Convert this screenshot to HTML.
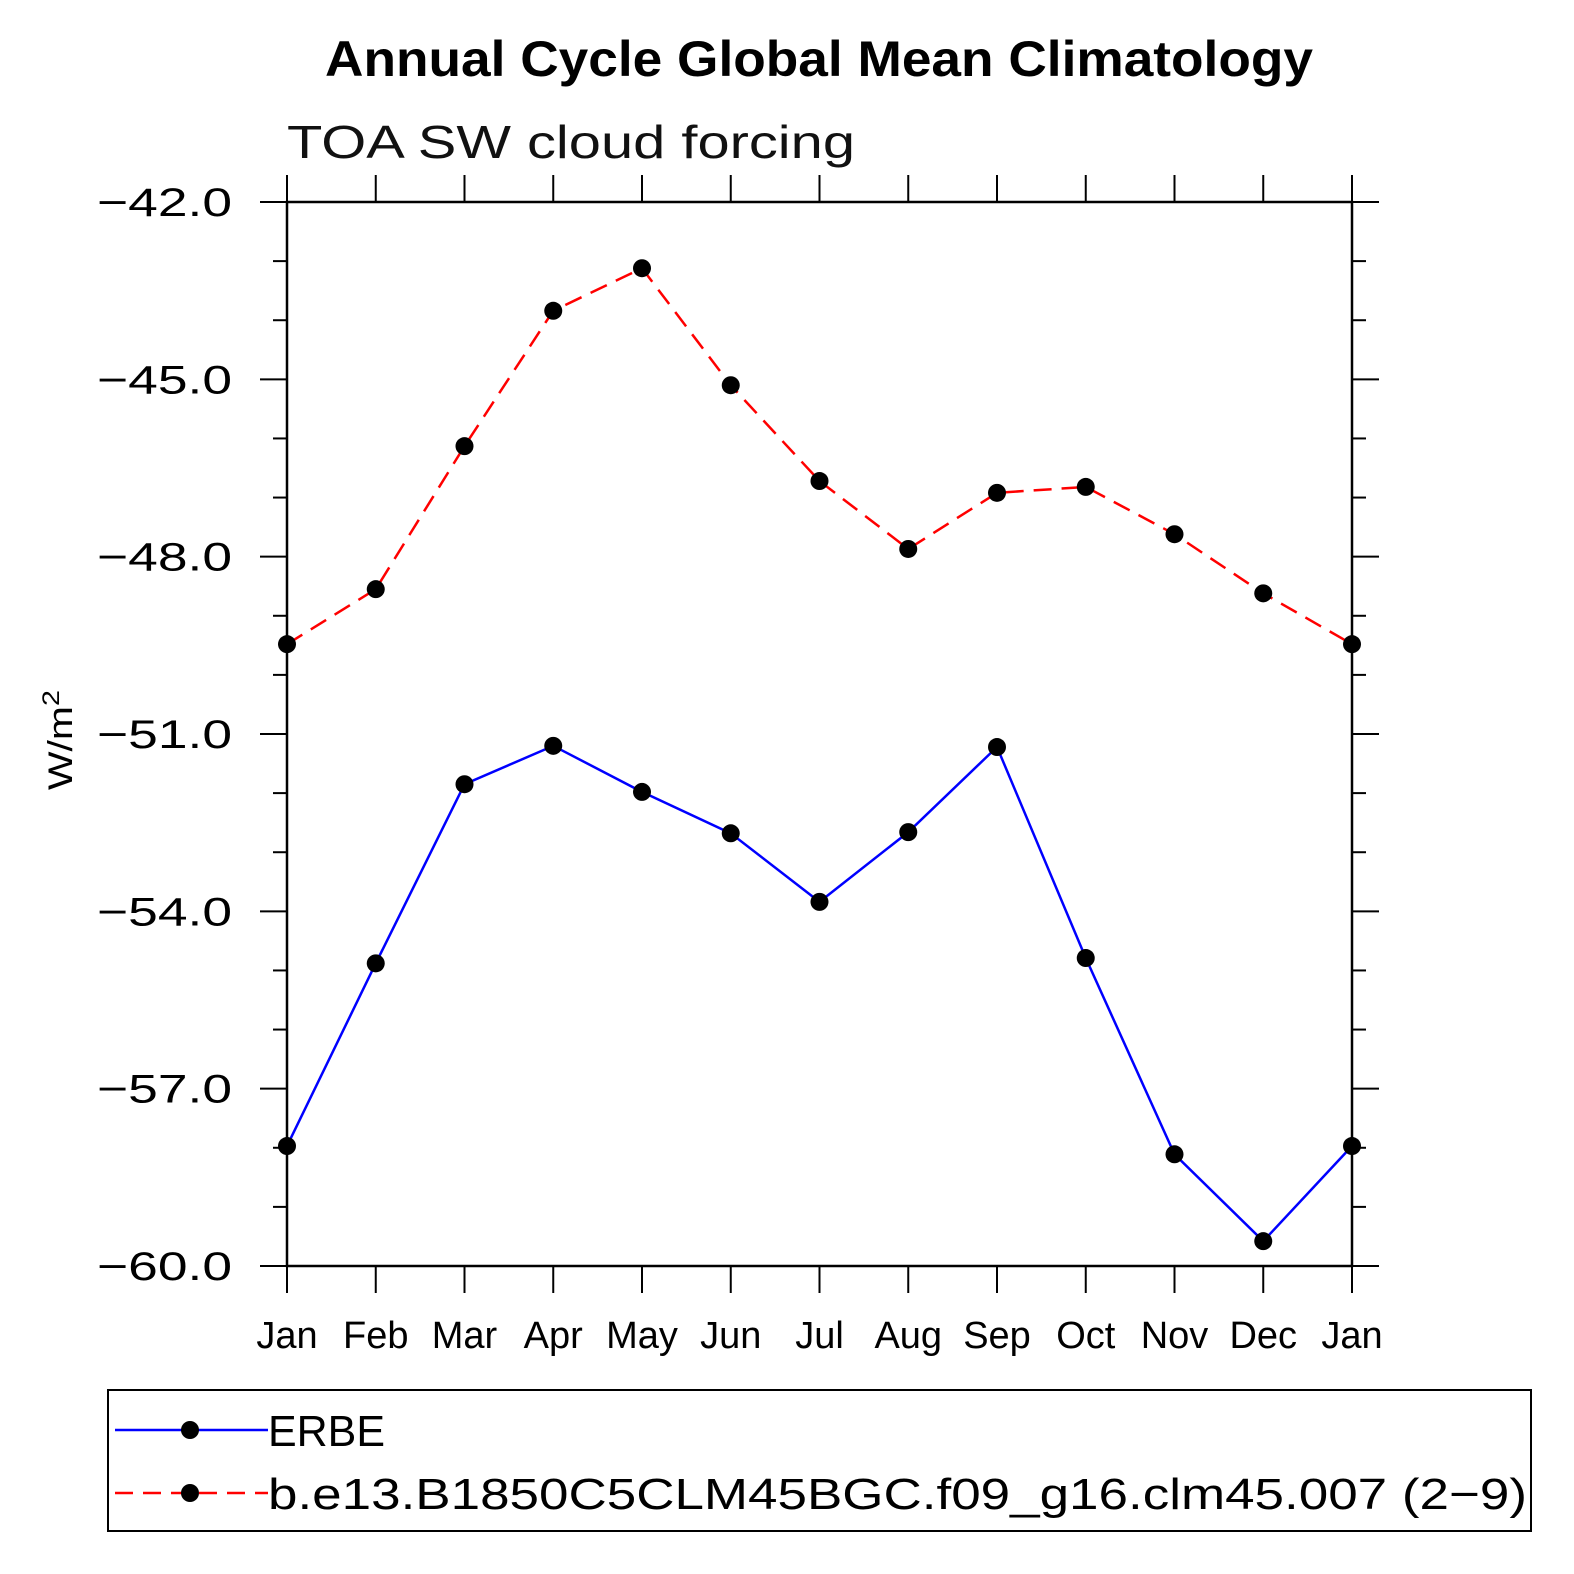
<!DOCTYPE html>
<html><head><meta charset="utf-8"><style>
html,body{margin:0;padding:0;background:#fff;overflow:hidden;width:1574px;height:1574px}
svg{display:block}
text{font-family:"Liberation Sans",sans-serif}
</style></head><body>
<svg id="chart" width="1574" height="1574" viewBox="0 0 1574 1574">
<text x="325" y="76" textLength="988" lengthAdjust="spacingAndGlyphs" font-size="50" font-weight="bold">Annual Cycle Global Mean Climatology</text>
<text x="287" y="158" textLength="568" lengthAdjust="spacingAndGlyphs" font-size="46" fill="#111">TOA SW cloud forcing</text>
<text transform="translate(72,790) rotate(-90)" font-size="34" textLength="100" lengthAdjust="spacingAndGlyphs">W/m<tspan dy="-13" font-size="24">2</tspan></text>
<g id="axes"></g>
<g id="series"></g>
<g>
<rect x="108" y="1390" width="1423" height="141" fill="none" stroke="#000" stroke-width="2"/>
<g>
<line x1="115" y1="1430" x2="268" y2="1430" stroke="#00f" stroke-width="2.5"/>
<circle cx="190" cy="1430" r="9" fill="#000"/>
<text x="268" y="1446" font-size="44" textLength="117" lengthAdjust="spacingAndGlyphs">ERBE</text></g>
<g>
<line x1="115" y1="1493" x2="268" y2="1493" stroke="#f00" stroke-width="2.5" stroke-dasharray="18,10"/>
<circle cx="190" cy="1493" r="9" fill="#000"/>
<text x="268" y="1509" font-size="44" textLength="1259" lengthAdjust="spacingAndGlyphs">b.e13.B1850C5CLM45BGC.f09_g16.clm45.007 (2−9)</text></g>
</g>
</svg>
<script>
const months=["Jan","Feb","Mar","Apr","May","Jun","Jul","Aug","Sep","Oct","Nov","Dec","Jan"];
const erbe=[-57.97,-54.88,-51.85,-51.20,-51.98,-52.68,-53.84,-52.66,-51.22,-54.79,-58.11,-59.58,-57.97];
const model=[-49.48,-48.55,-46.13,-43.84,-43.12,-45.10,-46.72,-47.87,-46.92,-46.82,-47.62,-48.62,-49.48];
const yTicks=[-42,-45,-48,-51,-54,-57,-60];
const yTickLabels=["−42.0","−45.0","−48.0","−51.0","−54.0","−57.0","−60.0"];
const X0=287,X1=1352,Y0=202,Y1=1266,YMAX=-42,YMIN=-60;
const xs=i=>X0+(X1-X0)*i/(months.length-1);
const ys=v=>Y0+(YMAX-v)/(YMAX-YMIN)*(Y1-Y0);
const NS="http://www.w3.org/2000/svg";
function mk(p,tag,attrs){const e=document.createElementNS(NS,tag);for(const k in attrs)e.setAttribute(k,attrs[k]);p.appendChild(e);return e;}
const ax=document.getElementById('axes');
const fr=mk(ax,'rect',{x:X0,y:Y0,width:X1-X0,height:Y1-Y0,fill:'none',stroke:'#000','stroke-width':2.5});


for(let v=YMAX;v>=YMIN;v--){
  const y=ys(v);const major=(v-YMAX)%3===0;const L=major?27:14;
  const t1=mk(ax,'line',{x1:X0-L,y1:y,x2:X0,y2:y,stroke:'#000','stroke-width':2});
  
  
  const t2=mk(ax,'line',{x1:X1,y1:y,x2:X1+L,y2:y,stroke:'#000','stroke-width':2});
  
  
}
yTicks.forEach((v,i)=>{
  const t=mk(ax,'text',{x:97,y:ys(v)+14,'font-size':40,textLength:135,lengthAdjust:'spacingAndGlyphs'});
  t.textContent=yTickLabels[i];
  
  
});
months.forEach((m,i)=>{
  const x=xs(i);
  const a=mk(ax,'line',{x1:x,y1:Y0-27,x2:x,y2:Y0,stroke:'#000','stroke-width':2});
  
  
  const b=mk(ax,'line',{x1:x,y1:Y1,x2:x,y2:Y1+27,stroke:'#000','stroke-width':2});
  
  
  const t=mk(ax,'text',{x:x,y:1348,'text-anchor':'middle','font-size':38});
  t.textContent=m;
  
  
});
const sg=document.getElementById('series');
function series(vals,color,dash,name){
  const pts=vals.map((v,i)=>xs(i)+','+ys(v)).join(' ');
  const pl=mk(sg,'polyline',{points:pts,fill:'none',stroke:color,'stroke-width':2.5,'stroke-dasharray':dash});
  
  
  vals.forEach((v,i)=>{
    const c=mk(sg,'circle',{cx:xs(i),cy:ys(v),r:9,fill:'#000'});
    
    
  });
}
series(model,'#f00','18,10','model');
series(erbe,'#00f','none','erbe');
</script>
</body></html>
